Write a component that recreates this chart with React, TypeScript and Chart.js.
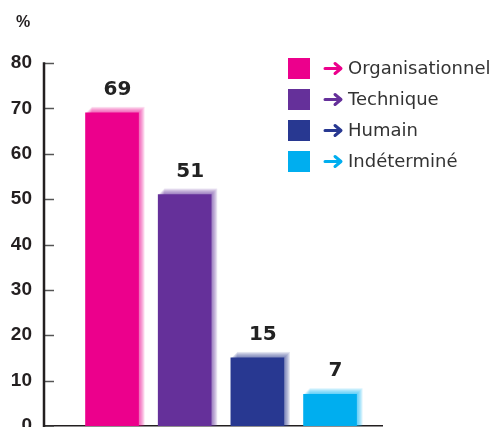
import React, { useEffect, useRef } from "react";
import { Chart, registerables } from "chart.js";

Chart.register(...registerables);

const categories = ["Organisationnel", "Technique", "Humain", "Indéterminé"];
const values = [69, 51, 15, 7];
const colors = ["#EC008C", "#65309A", "#283891", "#00AEEF"];
const yTicks = [0, 10, 20, 30, 40, 50, 60, 70, 80];
const unitLabel = "%";

function hexToRgba(hex: string, a: number) {
  const n = parseInt(hex.slice(1), 16);
  return `rgba(${(n >> 16) & 255},${(n >> 8) & 255},${n & 255},${a})`;
}

const decorPlugin = {
  id: "decor",
  beforeDatasetsDraw(chart: any) {
    const ctx = chart.ctx;
    const meta = chart.getDatasetMeta(0);
    ctx.save();
    meta.data.forEach((bar: any, i: number) => {
      const w = bar.width;
      const left = bar.x - w / 2;
      const bottom = bar.base;
      for (let k = 1; k <= 6; k++) {
        ctx.fillStyle = hexToRgba(colors[i], 0.14);
        ctx.fillRect(left + k, bar.y - k, w, bottom - bar.y + k);
      }
    });
    ctx.restore();
  },
  afterDatasetsDraw(chart: any) {
    const ctx = chart.ctx;
    const meta = chart.getDatasetMeta(0);
    const yScale = chart.scales.y;
    const area = chart.chartArea;
    ctx.save();
    // value labels
    ctx.fillStyle = "#222222";
    ctx.font = "bold 20px 'DejaVu Sans'";
    ctx.textAlign = "center";
    ctx.textBaseline = "middle";
    meta.data.forEach((bar: any, i: number) => {
      ctx.fillText(String(values[i]), bar.x + 5.5, bar.y - 23);
    });
    // y tick marks inside
    ctx.strokeStyle = "#555555";
    ctx.lineWidth = 1.5;
    yScale.ticks.forEach((t: any) => {
      const y = Math.round(yScale.getPixelForValue(t.value)) + 0.5;
      ctx.beginPath();
      ctx.moveTo(area.left, y);
      ctx.lineTo(area.left + 10, y);
      ctx.stroke();
    });
    // y axis line
    ctx.strokeStyle = "#231f20";
    ctx.lineWidth = 2.5;
    ctx.beginPath();
    ctx.moveTo(area.left, yScale.getPixelForValue(80) - 0.75);
    ctx.lineTo(area.left, area.bottom + 1);
    ctx.stroke();
    // unit
    ctx.fillStyle = "#231f20";
    ctx.font = "bold 16px 'Liberation Sans'";
    ctx.textAlign = "center";
    ctx.fillText(unitLabel, 23, 23);
    // legend
    const lx = 288;
    const ly = 58;
    const step = 31;
    categories.forEach((c, i) => {
      const y = ly + i * step;
      ctx.fillStyle = colors[i];
      ctx.fillRect(lx, y, 22, 21);
      const cy = y + 10.5;
      ctx.strokeStyle = colors[i];
      ctx.lineWidth = 3;
      ctx.lineCap = "round";
      ctx.lineJoin = "round";
      ctx.beginPath();
      ctx.moveTo(325, cy);
      ctx.lineTo(340, cy);
      ctx.moveTo(335, cy - 5);
      ctx.lineTo(341, cy);
      ctx.lineTo(335, cy + 5);
      ctx.stroke();
      ctx.fillStyle = "#333333";
      ctx.font = "18px 'DejaVu Sans'";
      ctx.textAlign = "left";
      ctx.textBaseline = "middle";
      ctx.fillText(c, 348, cy + 1);
    });
    ctx.restore();
  },
};

export default function App() {
  const ref = useRef<HTMLCanvasElement>(null);
  useEffect(() => {
    if (!ref.current) return;
    const chart = new Chart(ref.current, {
      type: "bar",
      data: {
        labels: categories,
        datasets: [
          {
            data: values.map((v, i) => ({ x: i + 1, y: v })),
            backgroundColor: colors,
            borderWidth: 0,
            barThickness: 53,
          },
        ],
      },
      options: {
        responsive: false,
        animation: false,
        devicePixelRatio: 1,
        layout: { padding: { top: 63, right: 112, bottom: 1, left: 0 } },
        plugins: { legend: { display: false }, tooltip: { enabled: false } },
        scales: {
          x: {
            type: "linear",
            offset: false,
            min: 0.064,
            max: 4.715,
            ticks: { display: false },
            grid: { display: false, drawTicks: false },
            border: { display: true, color: "#231f20", width: 1.5 },
            afterFit: (s: any) => {
              s.height = 0;
              s.paddingLeft = 0;
              s.paddingRight = 0;
            },
          },
          y: {
            min: 0,
            max: 80,
            afterBuildTicks: (s: any) => {
              s.ticks = yTicks.map((v) => ({ value: v }));
            },
            ticks: {
              color: "#231f20",
              font: { family: "'Liberation Sans'", size: 19, weight: "bold" },
              padding: 12,
            },
            grid: { display: false, drawTicks: false },
            border: { display: false },
            afterFit: (s: any) => {
              s.width = 44;
              s.paddingTop = 0;
              s.paddingBottom = 0;
            },
          },
        },
      },
      plugins: [decorPlugin],
    });
    return () => chart.destroy();
  }, []);
  return (
    <div style={{ position: "absolute", left: 0, top: 0, width: 494, height: 427 }}>
      <canvas ref={ref} width={494} height={427} />
    </div>
  );
}
